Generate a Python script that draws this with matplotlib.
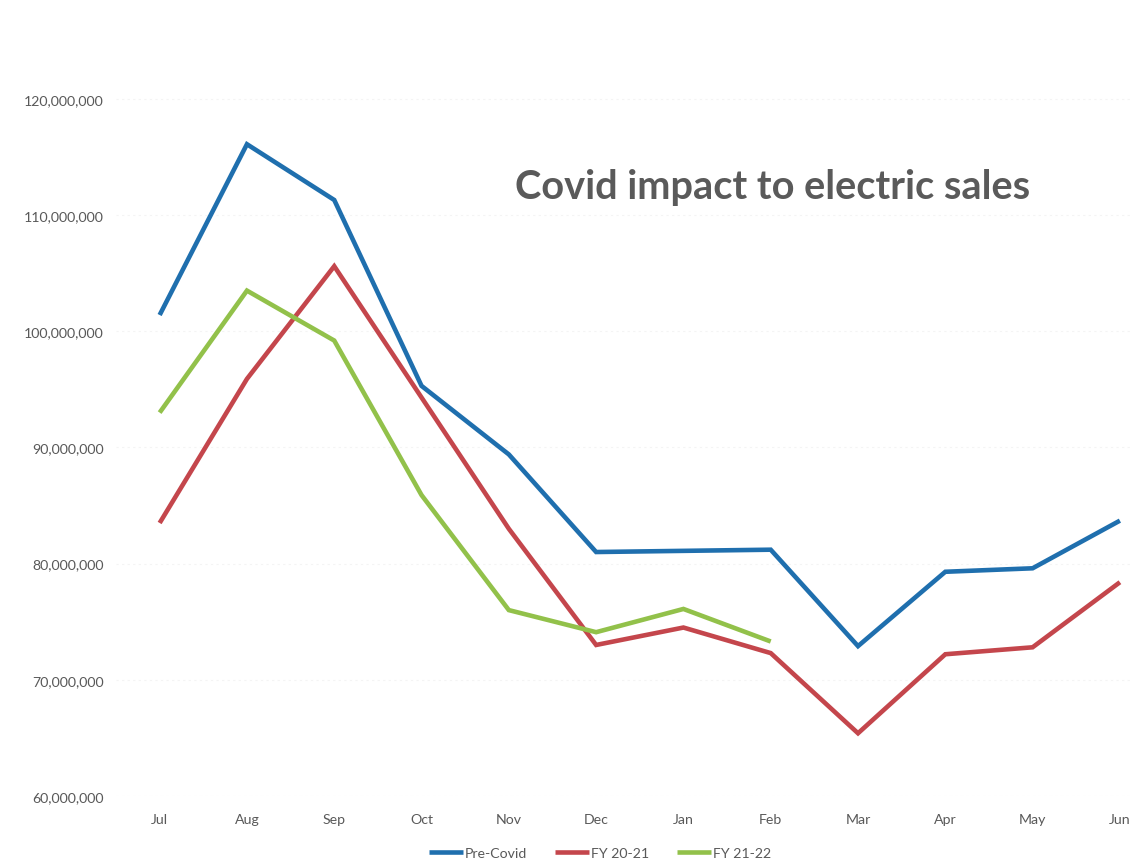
import matplotlib
matplotlib.use("Agg")
import matplotlib.pyplot as plt
from matplotlib.ticker import FuncFormatter

months = ["Jul", "Aug", "Sep", "Oct", "Nov", "Dec", "Jan", "Feb", "Mar", "Apr", "May", "Jun"]
pre_covid = [101.4, 116.1, 111.3, 95.3, 89.4, 81.0, 81.1, 81.2, 72.9, 79.3, 79.6, 83.7]
fy_20_21 = [83.5, 95.9, 105.6, 94.3, 83.0, 73.0, 74.5, 72.3, 65.4, 72.2, 72.8, 78.4]
fy_21_22 = [93.0, 103.5, 99.2, 85.9, 76.0, 74.1, 76.1, 73.3]
series_names = ["Pre-Covid", "FY 20-21", "FY 21-22"]
title = "Covid impact to electric sales"

colors = ["#1f6fae", "#c4464c", "#92c14a"]

plt.rcParams['font.family'] = ['Lato', 'DejaVu Sans']

fig = plt.figure(figsize=(11.33, 8.62), dpi=100)
W, H = 1133, 862
ax = fig.add_axes([116 / W, 1 - 797 / H, 1 - 116 / W, 797 / H])

for vals, name, c in zip([pre_covid, fy_20_21, fy_21_22], series_names, colors):
    ax.plot(range(len(vals)), [v * 1e6 for v in vals], color=c, lw=3.3,
            label=name, solid_joinstyle='miter', solid_capstyle='butt')

ax.set_xlim(-0.5, 11.15)
ax.set_ylim(60e6, 128.6e6)
ax.set_yticks([60e6, 70e6, 80e6, 90e6, 100e6, 110e6, 120e6])
ax.yaxis.set_major_formatter(FuncFormatter(lambda v, p: f"{int(v):,}"))
ax.set_xticks(range(12))
ax.set_xticklabels(months)
ax.tick_params(axis='both', length=0, colors="#595959", labelsize=10.2)
ax.tick_params(axis='y', pad=9)
ax.tick_params(axis='x', pad=12)
for s in ax.spines.values():
    s.set_visible(False)
ax.grid(axis='y', color="#f4f4f4", lw=0.8, ls=(0, (2, 3)))
ax.set_axisbelow(True)

fig.text(773 / W, 1 - 187 / H, title, ha='center', va='center',
         fontsize=28.6, fontweight='bold', color="#5a5a5a")

leg = fig.legend(loc='center', bbox_to_anchor=(600 / W, 1 - 854 / H), ncol=3,
                 frameon=False, fontsize=10.2, handlelength=2.4, handletextpad=0.1,
                 columnspacing=2.0, labelcolor="#595959")

fig.savefig("out.png", dpi=100, facecolor="white")
